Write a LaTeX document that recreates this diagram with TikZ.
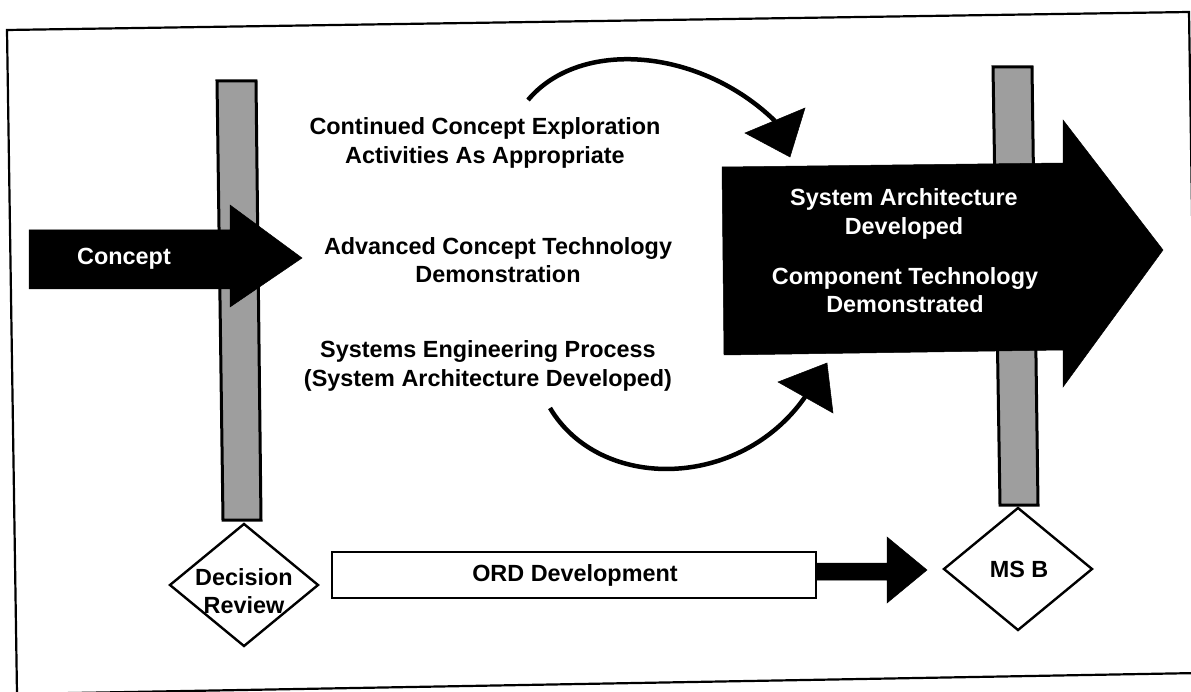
\documentclass[tikz,border=0pt]{standalone}
\usepackage{fontspec}
\setmainfont{Liberation Sans}
\usetikzlibrary{shapes.geometric}
\begin{document}
\begin{tikzpicture}[x=1pt,y=-1pt,
  lbl/.style={font=\fontsize{23.4}{28.5}\selectfont\bfseries, align=center, inner sep=0pt},
  wlbl/.style={lbl, text=white},
  frameline/.style={draw=black, line width=2.2pt},
  barstyle/.style={draw=black, line width=3pt, fill=black!38},
  solidarrow/.style={fill=black, draw=black, line width=0.5pt},
  curveline/.style={draw=black, line width=4.5pt},
  headtri/.style={fill=black, draw=black, line width=0.5pt, line join=miter},
  decisionbox/.style={diamond, draw=black, line width=2.4pt, fill=white, inner sep=0pt},
  ordbox/.style={draw=black, line width=2.4pt, fill=white, minimum width=484pt, minimum height=46pt, inner sep=0pt}
]
\useasboundingbox (0,0) rectangle (1191,692);
\fill[white] (0,0) rectangle (1191,692);

% outer frame (scan slightly rotated)
\draw[frameline] (7,30) -- (1189,12) -- (1199,673) -- (17,694) -- cycle;

% vertical milestone bars
\filldraw[barstyle] (217,81) -- (256,81) -- (261,520) -- (223,520) -- cycle;
\filldraw[barstyle] (993,67) -- (1032,67) -- (1038,505) -- (1000,505) -- cycle;

% Concept arrow
\fill[solidarrow] (29,230) -- (230,230) -- (230,205) -- (302,258) -- (230,307) -- (230,289) -- (29,289) -- cycle;
\node[wlbl] (concept) at (124,259) {Concept};

% big result arrow
\fill[solidarrow] (722,167) -- (1063,163) -- (1063,120) -- (1163,250) -- (1063,387) -- (1063,350) -- (724,355) -- cycle;
\node[wlbl] (sa) at (904,214) {System Architecture\\Developed};
\node[wlbl] (ct) at (905,290) {Component Technology\\Demonstrated};

% middle texts
\node[lbl] (cce) at (485,143) {Continued Concept Exploration\\Activities As Appropriate};
\node[lbl] (acd) at (498,260) {Advanced Concept Technology\\Demonstration};
\node[lbl] (sep) at (488,366) {Systems Engineering Process\\(System Architecture Developed)};

% curved arrows
\coordinate (t1) at (528,100);
\coordinate (t2) at (775,121);
\draw[curveline] (t1) .. controls (580,38) and (700,48) .. (t2);
\fill[headtri] (745,133) -- (805,108) -- (790,157) -- cycle;

\coordinate (b1) at (550,408);
\coordinate (b2) at (805,397);
\draw[curveline] (b1) .. controls (600,492) and (740,490) .. (b2);
\fill[headtri] (778,382) -- (833,413) -- (827,363) -- cycle;

% decision diamonds
\node[decisionbox, minimum width=149pt, minimum height=123pt] (drshape) at (244,585) {};
\node[lbl] (dr) at (244,591) {Decision\\Review};
\node[decisionbox, minimum width=149pt, minimum height=123pt] (msbshape) at (1018,569) {};
\node[lbl] (msb) at (1019,569) {MS B};

% ORD development bar and arrow
\node[ordbox] (ordshape) at (574,575) {};
\node[lbl] (ord) at (575,575) {ORD Development};
\fill[solidarrow] (ordshape.east |- 0,563) -- (887,563) -- (887,537) -- (927,570) -- (887,603) -- (887,580) -- (ordshape.east |- 0,580) -- cycle;
\end{tikzpicture}
\end{document}
